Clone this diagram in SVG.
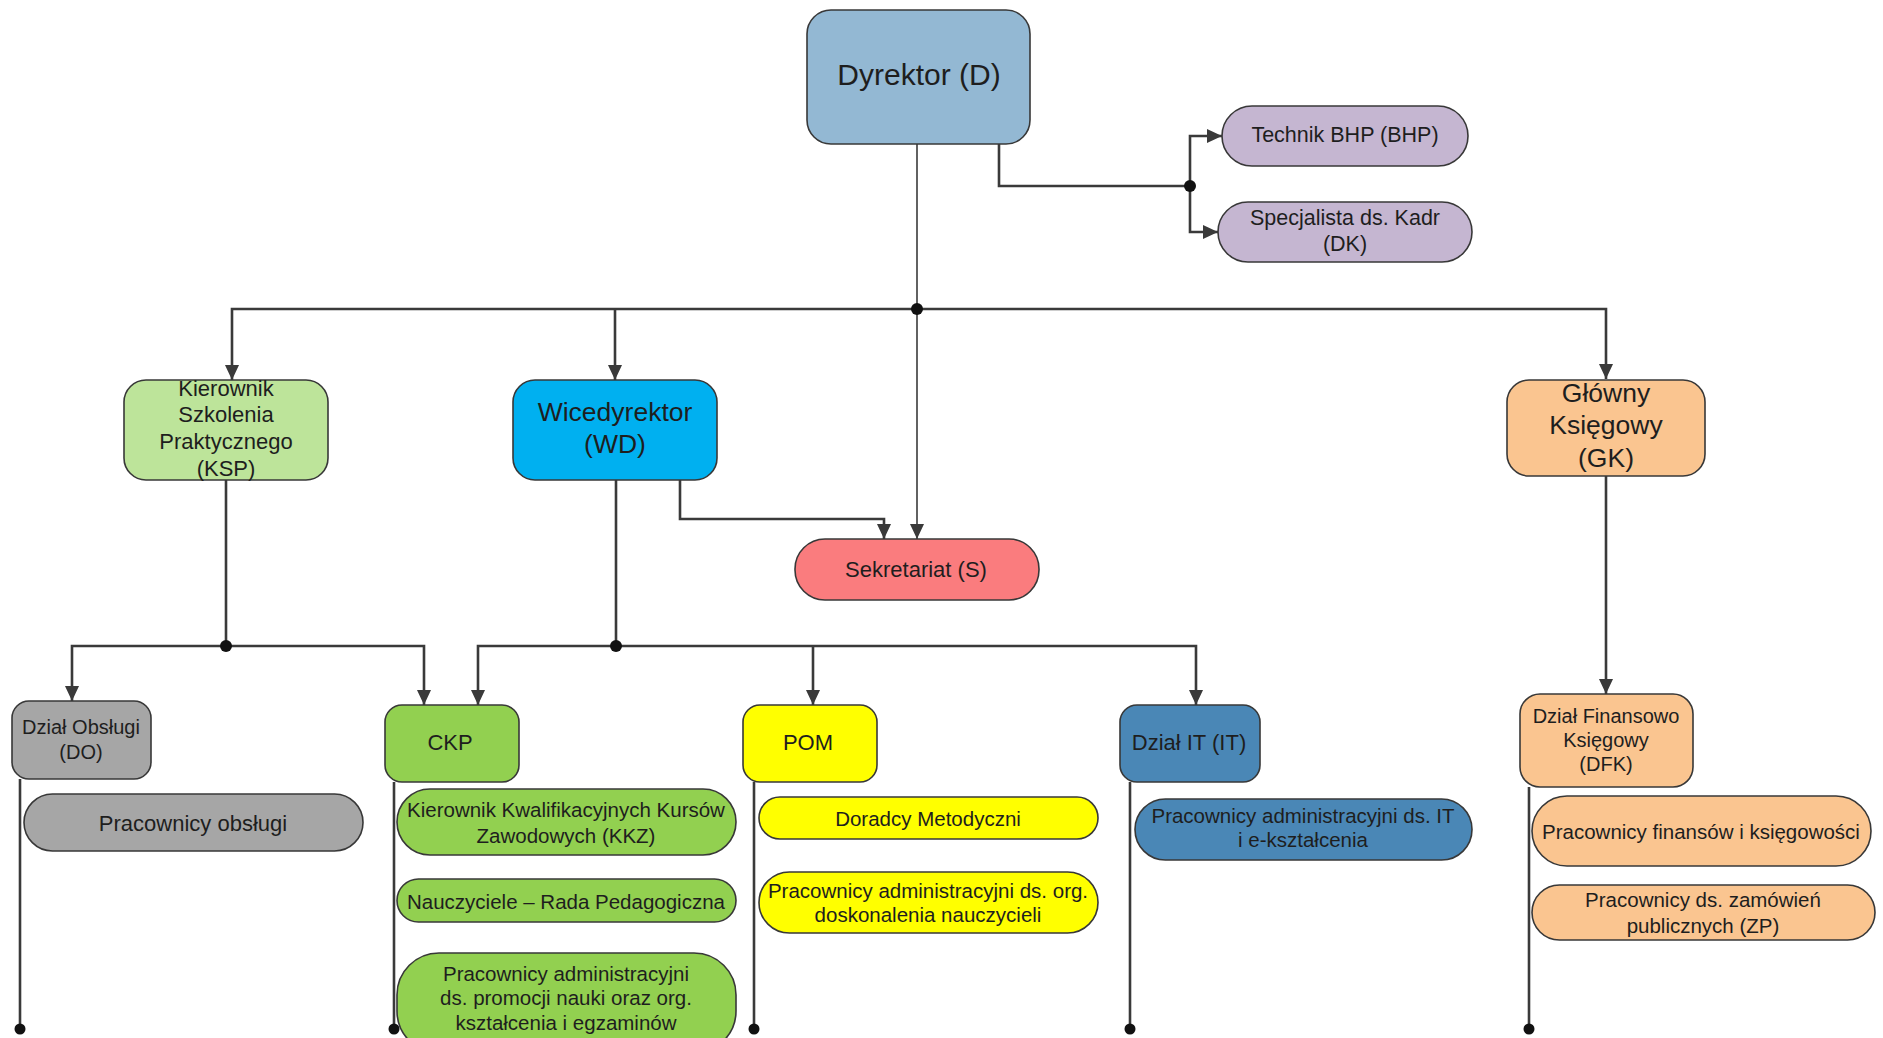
<svg xmlns="http://www.w3.org/2000/svg" width="1883" height="1038" viewBox="0 0 1883 1038">
<style>
  .box { stroke: #383838; stroke-width: 1.6; }
  .t { font-family: "Liberation Sans", Arial, sans-serif; fill: #1e1e1e; text-anchor: middle; dominant-baseline: central; }
  .conn { fill: none; stroke: #3a3a3a; stroke-width: 2.6; }
  .thin { fill: none; stroke: #3a3a3a; stroke-width: 1.6; }
  .dot { fill: #111; }
  .d { fill: #93b8d3; }
  .lav { fill: #c5b6d1; }
  .lg { fill: #bde49a; }
  .cy { fill: #00b0f0; }
  .pe { fill: #fac590; }
  .rd { fill: #fa7c7e; }
  .gr { fill: #a6a6a6; }
  .gn { fill: #92d050; }
  .ye { fill: #ffff00; }
  .bl { fill: #4a87b6; }
</style>
<defs>
  <marker id="arr" viewBox="0 0 15 14" refX="15" refY="7" markerWidth="15" markerHeight="14" markerUnits="userSpaceOnUse" orient="auto">
    <path d="M0,0 L15,7 L0,14 z" fill="#3a3a3a"/>
  </marker>
</defs>
<rect width="1883" height="1038" fill="#ffffff"/>

<g id="connectors">
  <path class="conn" d="M999,144 V186 H1190"/>
  <path class="conn" d="M1190,186 V136 H1222" marker-end="url(#arr)"/>
  <path class="conn" d="M1190,186 V232 H1218" marker-end="url(#arr)"/>
  <path class="thin" d="M917,144 V539" marker-end="url(#arr)"/>
  <path class="conn" d="M917,309 H232 V380" marker-end="url(#arr)"/>
  <path class="conn" d="M917,309 H1606 V379" marker-end="url(#arr)"/>
  <path class="conn" d="M615,309 V380" marker-end="url(#arr)"/>
  <path class="conn" d="M680,480 V519 H884 V539" marker-end="url(#arr)"/>
  <path class="conn" d="M226,480 V646"/>
  <path class="conn" d="M226,646 H72 V701" marker-end="url(#arr)"/>
  <path class="conn" d="M226,646 H424 V705" marker-end="url(#arr)"/>
  <path class="conn" d="M616,480 V646"/>
  <path class="conn" d="M616,646 H478 V705" marker-end="url(#arr)"/>
  <path class="conn" d="M616,646 H1196 V705" marker-end="url(#arr)"/>
  <path class="conn" d="M813,646 V705" marker-end="url(#arr)"/>
  <path class="conn" d="M1606,476 V694" marker-end="url(#arr)"/>
  <path class="conn" d="M20,779 V1029"/>
  <path class="conn" d="M394,782 V1029"/>
  <path class="conn" d="M754,782 V1029"/>
  <path class="conn" d="M1130,782 V1029"/>
  <path class="conn" d="M1529,787 V1029"/>
  <circle class="dot" cx="1190" cy="186" r="6"/>
  <circle class="dot" cx="917" cy="309" r="6"/>
  <circle class="dot" cx="226" cy="646" r="6"/>
  <circle class="dot" cx="616" cy="646" r="6"/>
  <circle class="dot" cx="20" cy="1029" r="5.5"/>
  <circle class="dot" cx="394" cy="1029" r="5.5"/>
  <circle class="dot" cx="754" cy="1029" r="5.5"/>
  <circle class="dot" cx="1130" cy="1029" r="5.5"/>
  <circle class="dot" cx="1529" cy="1029" r="5.5"/>
</g>

<g id="D">
  <rect class="box d" x="807" y="10" width="223" height="134" rx="24"/>
  <text class="t" x="919" y="74" font-size="30">Dyrektor (D)</text>
</g>
<g id="BHP">
  <rect class="box lav" x="1222" y="106" width="246" height="60" rx="30"/>
  <text class="t" x="1345" y="135" font-size="21.5">Technik BHP (BHP)</text>
</g>
<g id="DK">
  <rect class="box lav" x="1218" y="202" width="254" height="60" rx="30"/>
  <text class="t" x="1345" y="218" font-size="21.5">Specjalista ds. Kadr</text>
  <text class="t" x="1345" y="244" font-size="21.5">(DK)</text>
</g>
<g id="KSP">
  <rect class="box lg" x="124" y="380" width="204" height="100" rx="22"/>
  <text class="t" x="226" y="388" font-size="22">Kierownik</text>
  <text class="t" x="226" y="414" font-size="22">Szkolenia</text>
  <text class="t" x="226" y="441" font-size="22">Praktycznego</text>
  <text class="t" x="226" y="468" font-size="22">(KSP)</text>
</g>
<g id="WD">
  <rect class="box cy" x="513" y="380" width="204" height="100" rx="22"/>
  <text class="t" x="615" y="412" font-size="26.5">Wicedyrektor</text>
  <text class="t" x="615" y="444" font-size="26.5">(WD)</text>
</g>
<g id="GK">
  <rect class="box pe" x="1507" y="380" width="198" height="96" rx="22"/>
  <text class="t" x="1606" y="393" font-size="26.5">Główny</text>
  <text class="t" x="1606" y="425" font-size="26.5">Księgowy</text>
  <text class="t" x="1606" y="458" font-size="26.5">(GK)</text>
</g>
<g id="S">
  <rect class="box rd" x="795" y="539" width="244" height="61" rx="30"/>
  <text class="t" x="916" y="569" font-size="22">Sekretariat (S)</text>
</g>
<g id="DO">
  <rect class="box gr" x="12" y="701" width="139" height="78" rx="17"/>
  <text class="t" x="81" y="727" font-size="20">Dział Obsługi</text>
  <text class="t" x="81" y="752" font-size="20">(DO)</text>
</g>
<g id="DO-prac">
  <rect class="box gr" x="24" y="794" width="339" height="57" rx="28.5"/>
  <text class="t" x="193" y="823" font-size="22">Pracownicy obsługi</text>
</g>
<g id="CKP">
  <rect class="box gn" x="385" y="705" width="134" height="77" rx="17"/>
  <text class="t" x="450" y="742" font-size="22">CKP</text>
</g>
<g id="KKZ">
  <rect class="box gn" x="397" y="789" width="339" height="66" rx="33"/>
  <text class="t" x="566" y="809" font-size="20.5">Kierownik Kwalifikacyjnych Kursów</text>
  <text class="t" x="566" y="835" font-size="20.5">Zawodowych (KKZ)</text>
</g>
<g id="RP">
  <rect class="box gn" x="397" y="879" width="339" height="43" rx="21.5"/>
  <text class="t" x="566" y="901" font-size="20.5">Nauczyciele – Rada Pedagogiczna</text>
</g>
<g id="CKP-prac">
  <rect class="box gn" x="397" y="953" width="339" height="100" rx="42"/>
  <text class="t" x="566" y="973" font-size="20.5">Pracownicy administracyjni</text>
  <text class="t" x="566" y="997" font-size="20.5">ds. promocji nauki oraz org.</text>
  <text class="t" x="566" y="1022" font-size="20.5">kształcenia i egzaminów</text>
</g>
<g id="POM">
  <rect class="box ye" x="743" y="705" width="134" height="77" rx="17"/>
  <text class="t" x="808" y="742" font-size="22">POM</text>
</g>
<g id="DM">
  <rect class="box ye" x="759" y="797" width="339" height="42" rx="21"/>
  <text class="t" x="928" y="818" font-size="20.5">Doradcy Metodyczni</text>
</g>
<g id="POM-prac">
  <rect class="box ye" x="759" y="872" width="339" height="61" rx="30.5"/>
  <text class="t" x="928" y="890" font-size="20.5">Pracownicy administracyjni ds. org.</text>
  <text class="t" x="928" y="914" font-size="20.5">doskonalenia nauczycieli</text>
</g>
<g id="IT">
  <rect class="box bl" x="1120" y="705" width="140" height="77" rx="17"/>
  <text class="t" x="1189" y="742" font-size="22">Dział IT (IT)</text>
</g>
<g id="IT-prac">
  <rect class="box bl" x="1135" y="799" width="337" height="61" rx="30.5"/>
  <text class="t" x="1303" y="815" font-size="20.5">Pracownicy administracyjni ds. IT</text>
  <text class="t" x="1303" y="839" font-size="20.5">i e-kształcenia</text>
</g>
<g id="DFK">
  <rect class="box pe" x="1520" y="694" width="173" height="93" rx="20"/>
  <text class="t" x="1606" y="716" font-size="20">Dział Finansowo</text>
  <text class="t" x="1606" y="740" font-size="20">Księgowy</text>
  <text class="t" x="1606" y="764" font-size="20">(DFK)</text>
</g>
<g id="FK">
  <rect class="box pe" x="1532" y="796" width="339" height="70" rx="35"/>
  <text class="t" x="1701" y="831" font-size="20.5">Pracownicy finansów i księgowości</text>
</g>
<g id="ZP">
  <rect class="box pe" x="1532" y="885" width="343" height="55" rx="27.5"/>
  <text class="t" x="1703" y="899" font-size="20.5">Pracownicy ds. zamówień</text>
  <text class="t" x="1703" y="925" font-size="20.5">publicznych (ZP)</text>
</g>
</svg>
